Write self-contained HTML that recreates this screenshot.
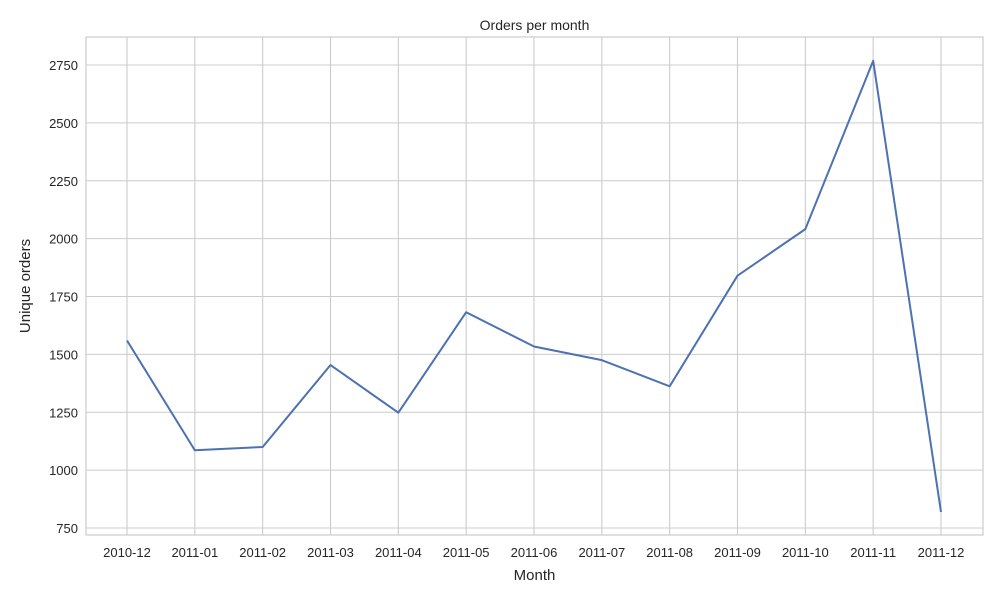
<!DOCTYPE html>
<html><head><meta charset="utf-8"><style>
html,body{margin:0;padding:0;background:#fff;}
svg text{font-family:"Liberation Sans",sans-serif;fill:#262626;}
</style></head><body>
<svg id="chart" width="1000" height="600">
<rect x="0" y="0" width="1000" height="600" fill="#fff"/>
<g id="grid"></g>
<rect x="86" y="37" width="897" height="498" fill="none" stroke="#cccccc" stroke-width="1.2"/>
<g id="marks"></g>
<g id="labels"></g>
<text x="534.5" y="30" text-anchor="middle" font-size="14">Orders per month</text>
<text x="534.5" y="580" text-anchor="middle" font-size="15">Month</text>
<text transform="translate(30,286) rotate(-90)" text-anchor="middle" font-size="15">Unique orders</text>
</svg>
<script>
const months = ["2010-12","2011-01","2011-02","2011-03","2011-04","2011-05","2011-06","2011-07","2011-08","2011-09","2011-10","2011-11","2011-12"];
const orders = [1560,1086,1100,1454,1248,1682,1534,1475,1362,1840,2041,2768,819];
const yTicks = [750,1000,1250,1500,1750,2000,2250,2500,2750];

const NS="http://www.w3.org/2000/svg";
const x0=127, x1=941;
function xs(i){return x0+(x1-x0)*i/(months.length-1);}
function ys(v){return 528-(v-750)/(2750-750)*(528-65);}
const grid=document.getElementById('grid'), marks=document.getElementById('marks'), labels=document.getElementById('labels');
function mk(tag,attrs,parent){const e=document.createElementNS(NS,tag);for(const k in attrs)e.setAttribute(k,attrs[k]);parent.appendChild(e);return e;}
yTicks.forEach(v=>{
  const l=mk('line',{x1:86,x2:983,y1:ys(v),y2:ys(v),stroke:'#cccccc','stroke-width':1.1},grid);
  
  
  const t=mk('text',{x:78,y:ys(v)+5,'text-anchor':'end','font-size':13},labels);
  t.textContent=v;
  
  
});
months.forEach((m,i)=>{
  const l=mk('line',{x1:xs(i),x2:xs(i),y1:37,y2:535,stroke:'#cccccc','stroke-width':1.1},grid);
  
  
  const t=mk('text',{x:xs(i),y:557,'text-anchor':'middle','font-size':13},labels);
  t.textContent=m;
  
  
});
const pts=orders.map((v,i)=>xs(i)+','+ys(v)).join(' ');
const line=mk('polyline',{points:pts,fill:'none',stroke:'#4c72b0','stroke-width':2,'stroke-linejoin':'round'},marks);


</script>
</body></html>
